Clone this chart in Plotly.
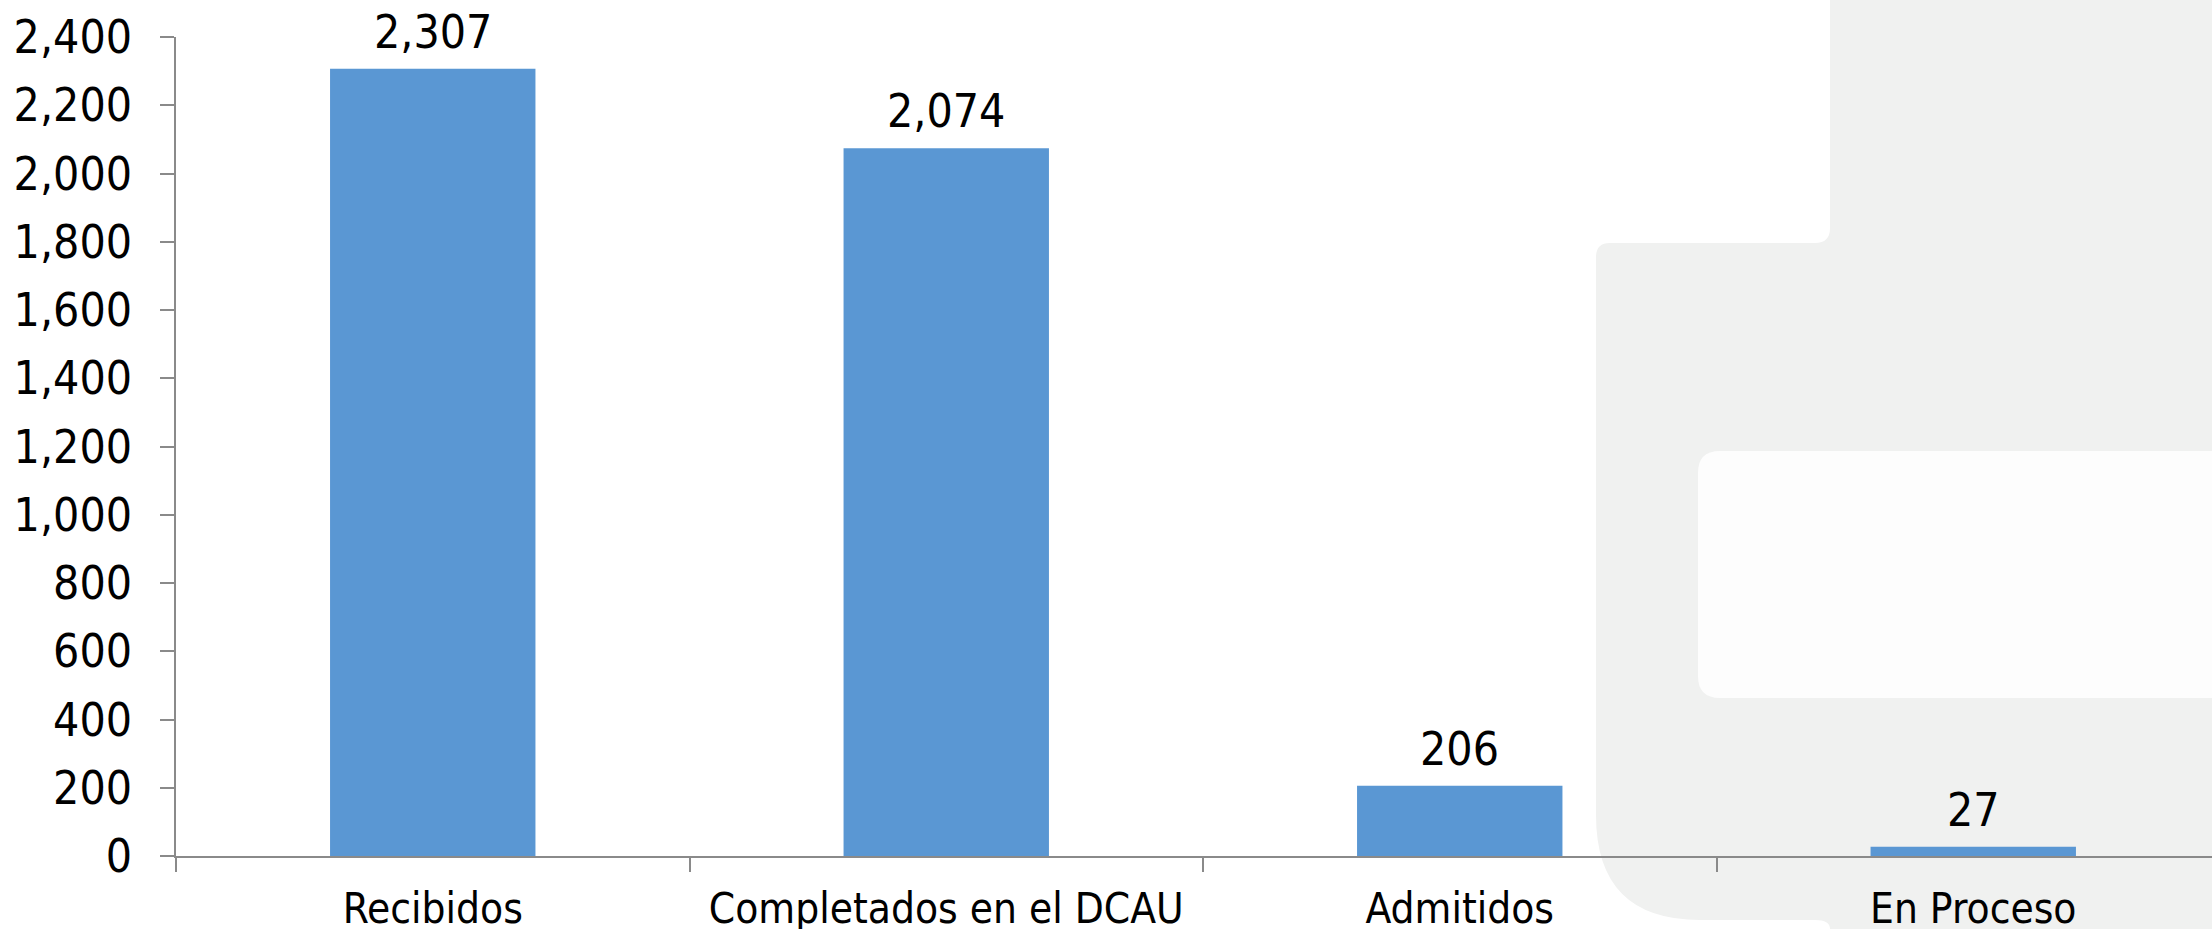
import plotly.graph_objects as go

categories = ["Recibidos", "Completados en el DCAU", "Admitidos", "En Proceso"]
values = [2307, 2074, 206, 27]
y_tick_vals = list(range(0, 2401, 200))
y_tick_text = [f"{v:,}" for v in y_tick_vals]

W, H = 2212, 929
L, R, T, B = 176, 0, 37, 73
PW, PH = W - L - R, H - T - B
CAT_PX = 513.5

FONT = "DejaVu Sans Condensed, Open Sans, sans-serif"
AXIS_COL = "#8a8a8a"


def px(x, y):
    return (x - L) / PW, (H - B - y) / PH


def path(cmds):
    out = []
    for c in cmds:
        op = c[0]
        pts = c[1:]
        coords = []
        for i in range(0, len(pts), 2):
            a, b = px(pts[i], pts[i + 1])
            coords.append(f"{a:.5f},{b:.5f}")
        out.append(op + " " + " ".join(coords))
    return " ".join(out) + " Z"


gray_path = path([
    ("M", 2212, 0),
    ("L", 1830, 0),
    ("L", 1830, 228),
    ("Q", 1830, 243, 1815, 243),
    ("L", 1610, 243),
    ("Q", 1596, 243, 1596, 257),
    ("L", 1596, 815),
    ("Q", 1596, 920, 1700, 920),
    ("L", 1815, 920),
    ("Q", 1830, 920, 1830, 929),
    ("L", 2212, 929),
])

white_path = path([
    ("M", 2212, 451),
    ("L", 1720, 451),
    ("Q", 1698, 451, 1698, 473),
    ("L", 1698, 676),
    ("Q", 1698, 698, 1720, 698),
    ("L", 2212, 698),
])

fig = go.Figure()
fig.add_trace(go.Bar(
    x=categories,
    y=values,
    width=0.4,
    marker=dict(color="#5A97D3", line=dict(width=0)),
    hoverinfo="skip",
))

for c, v in zip(categories, values):
    fig.add_annotation(
        x=c, y=v, text=f"{v:,}", showarrow=False, yanchor="bottom",
        yshift=8, font=dict(family=FONT, size=46, color="#000000"),
    )

fig.update_layout(
    width=W, height=H,
    margin=dict(l=L, r=R, t=T, b=B, pad=0, autoexpand=False),
    paper_bgcolor="#ffffff",
    plot_bgcolor="rgba(0,0,0,0)",
    showlegend=False,
    shapes=[
        dict(type="path", xref="paper", yref="paper", path=gray_path,
             fillcolor="#F0F1F0", line=dict(width=0), layer="below"),
        dict(type="path", xref="paper", yref="paper", path=white_path,
             fillcolor="#FDFDFD", line=dict(width=0), layer="below"),
    ],
    xaxis=dict(
        range=[-0.5, -0.5 + PW / CAT_PX],
        automargin=False,
        showgrid=False, zeroline=False,
        showline=True, linecolor=AXIS_COL, linewidth=1.5,
        ticks="outside", ticklen=14, tickcolor=AXIS_COL, tickwidth=1.5,
        tickson="boundaries",
        tickfont=dict(family=FONT, size=42, color="#000000"),
        ticklabelstandoff=15,
        fixedrange=True,
    ),
    yaxis=dict(
        range=[0, 2400],
        automargin=False,
        tickvals=y_tick_vals, ticktext=y_tick_text,
        showgrid=False, zeroline=False,
        showline=True, linecolor=AXIS_COL, linewidth=1.5,
        ticks="outside", ticklen=14, tickcolor=AXIS_COL, tickwidth=1.5,
        tickfont=dict(family=FONT, size=46, color="#000000"),
        ticklabelstandoff=19,
        fixedrange=True,
    ),
)

fig.write_html(
    "out.html",
    config={"displayModeBar": False},
    post_script="document.body.style.margin='0';document.body.style.overflow='hidden';",
)
